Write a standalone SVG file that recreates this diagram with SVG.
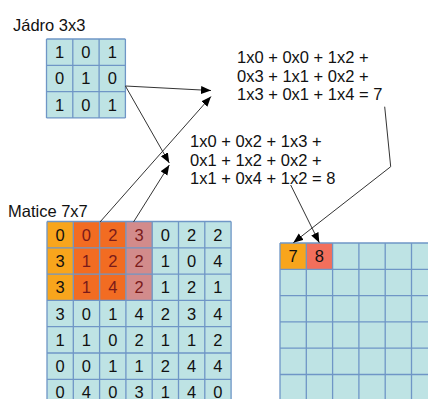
<svg xmlns="http://www.w3.org/2000/svg" width="428" height="399" viewBox="0 0 428 399">
<defs>
<style>
text{font-family:"Liberation Sans",Arial,sans-serif;font-size:16.5px;fill:#111}
.c{text-anchor:middle}
.d{fill:#7a1a1a}
.grid{fill:none;stroke:#6f96c6;stroke-width:1.3}
.bg{fill:#bee3e4}
.conn{fill:none;stroke:#333;stroke-width:1}
</style>
<marker id="ah" markerUnits="userSpaceOnUse" markerWidth="11" markerHeight="9" refX="10" refY="4" orient="auto">
<path d="M0,0 L10,4 L0,8 z" fill="#000"/>
</marker>
</defs>
<rect width="428" height="399" fill="#fff"/>

<g id="kernel">
<text x="13" y="31">Jádro 3x3</text>
<rect class="bg" x="46.5" y="39" width="78.9" height="78.9"/>
<path class="grid" d="M46.5,39V117.9M72.8,39V117.9M99.1,39V117.9M125.4,39V117.9M46.5,39H125.4M46.5,65.3H125.4M46.5,91.6H125.4M46.5,117.9H125.4"/>
<text class="c" x="59.65" y="58.15">1</text><text class="c" x="85.95" y="58.15">0</text><text class="c" x="112.25" y="58.15">1</text>
<text class="c" x="59.65" y="84.45">0</text><text class="c" x="85.95" y="84.45">1</text><text class="c" x="112.25" y="84.45">0</text>
<text class="c" x="59.65" y="110.75">1</text><text class="c" x="85.95" y="110.75">0</text><text class="c" x="112.25" y="110.75">1</text>
</g>

<g id="eq1">
<text x="237" y="63">1x0 + 0x0 + 1x2 +</text>
<text x="237" y="81.5">0x3 + 1x1 + 0x2 +</text>
<text x="237" y="100">1x3 + 0x1 + 1x4 = 7</text>
</g>

<g id="eq2">
<text x="190" y="147.3">1x0 + 0x2 + 1x3 +</text>
<text x="190" y="165.8">0x1 + 1x2 + 0x2 +</text>
<text x="190" y="184.3">1x1 + 0x4 + 1x2 = 8</text>
</g>

<g id="matrix">
<text x="8" y="216.7">Matice 7x7</text>
<rect class="bg" x="47" y="221.5" width="184.1" height="184.1"/>
<rect x="47" y="221.5" width="26.3" height="78.9" fill="#f8a51c"/>
<rect x="73.3" y="221.5" width="52.6" height="78.9" fill="#f26c22"/>
<rect x="125.9" y="221.5" width="26.3" height="78.9" fill="#d28b8b"/>
<path class="grid" d="M47,221.5V405.6M73.3,221.5V405.6M99.6,221.5V405.6M125.9,221.5V405.6M152.2,221.5V405.6M178.5,221.5V405.6M204.8,221.5V405.6M231.1,221.5V405.6M47,221.5H231.1M47,247.8H231.1M47,274.1H231.1M47,300.4H231.1M47,326.7H231.1M47,353H231.1M47,379.3H231.1M47,405.6H231.1"/>
<text class="c" x="60.15" y="240.6">0</text><text class="c d" x="86.45" y="240.6">0</text><text class="c d" x="112.75" y="240.6">2</text><text class="c d" x="139.05" y="240.6">3</text><text class="c" x="165.35" y="240.6">0</text><text class="c" x="191.65" y="240.6">2</text><text class="c" x="217.95" y="240.6">2</text>
<text class="c" x="60.15" y="266.9">3</text><text class="c d" x="86.45" y="266.9">1</text><text class="c d" x="112.75" y="266.9">2</text><text class="c d" x="139.05" y="266.9">2</text><text class="c" x="165.35" y="266.9">1</text><text class="c" x="191.65" y="266.9">0</text><text class="c" x="217.95" y="266.9">4</text>
<text class="c" x="60.15" y="293.2">3</text><text class="c d" x="86.45" y="293.2">1</text><text class="c d" x="112.75" y="293.2">4</text><text class="c d" x="139.05" y="293.2">2</text><text class="c" x="165.35" y="293.2">1</text><text class="c" x="191.65" y="293.2">2</text><text class="c" x="217.95" y="293.2">1</text>
<text class="c" x="60.15" y="319.5">3</text><text class="c" x="86.45" y="319.5">0</text><text class="c" x="112.75" y="319.5">1</text><text class="c" x="139.05" y="319.5">4</text><text class="c" x="165.35" y="319.5">2</text><text class="c" x="191.65" y="319.5">3</text><text class="c" x="217.95" y="319.5">4</text>
<text class="c" x="60.15" y="345.8">1</text><text class="c" x="86.45" y="345.8">1</text><text class="c" x="112.75" y="345.8">0</text><text class="c" x="139.05" y="345.8">2</text><text class="c" x="165.35" y="345.8">1</text><text class="c" x="191.65" y="345.8">1</text><text class="c" x="217.95" y="345.8">2</text>
<text class="c" x="60.15" y="372.1">0</text><text class="c" x="86.45" y="372.1">0</text><text class="c" x="112.75" y="372.1">1</text><text class="c" x="139.05" y="372.1">1</text><text class="c" x="165.35" y="372.1">2</text><text class="c" x="191.65" y="372.1">4</text><text class="c" x="217.95" y="372.1">4</text>
<text class="c" x="60.15" y="398.4">0</text><text class="c" x="86.45" y="398.4">4</text><text class="c" x="112.75" y="398.4">0</text><text class="c" x="139.05" y="398.4">3</text><text class="c" x="165.35" y="398.4">1</text><text class="c" x="191.65" y="398.4">4</text><text class="c" x="217.95" y="398.4">0</text>
</g>

<g id="output">
<rect class="bg" x="280" y="243" width="184.1" height="184.1"/>
<rect x="280" y="243" width="26.3" height="26.3" fill="#f8a51c"/>
<rect x="306.3" y="243" width="26.3" height="26.3" fill="#f26f5c"/>
<path class="grid" d="M280,243V427.1M306.3,243V427.1M332.6,243V427.1M358.9,243V427.1M385.2,243V427.1M411.5,243V427.1M437.8,243V427.1M280,243H464.1M280,269.3H464.1M280,295.6H464.1M280,321.9H464.1M280,348.2H464.1M280,374.5H464.1M280,400.8H464.1"/>
<text class="c" x="293.15" y="262.2">7</text>
<text class="c" x="319.45" y="262.2">8</text>
</g>

<g id="connectors">
<path class="conn" d="M125.4,86L211,90.5" marker-end="url(#ah)"/>
<path class="conn" d="M125.4,86L169.3,163" marker-end="url(#ah)"/>
<path class="conn" d="M100,222L211,96.5" marker-end="url(#ah)"/>
<path class="conn" d="M133.5,222L169.3,165" marker-end="url(#ah)"/>
<path class="conn" d="M384.7,106.7L390.7,166.7L293.3,242.7" marker-end="url(#ah)"/>
<path class="conn" d="M290.7,185L319.3,242.7" marker-end="url(#ah)"/>
</g>
</svg>
